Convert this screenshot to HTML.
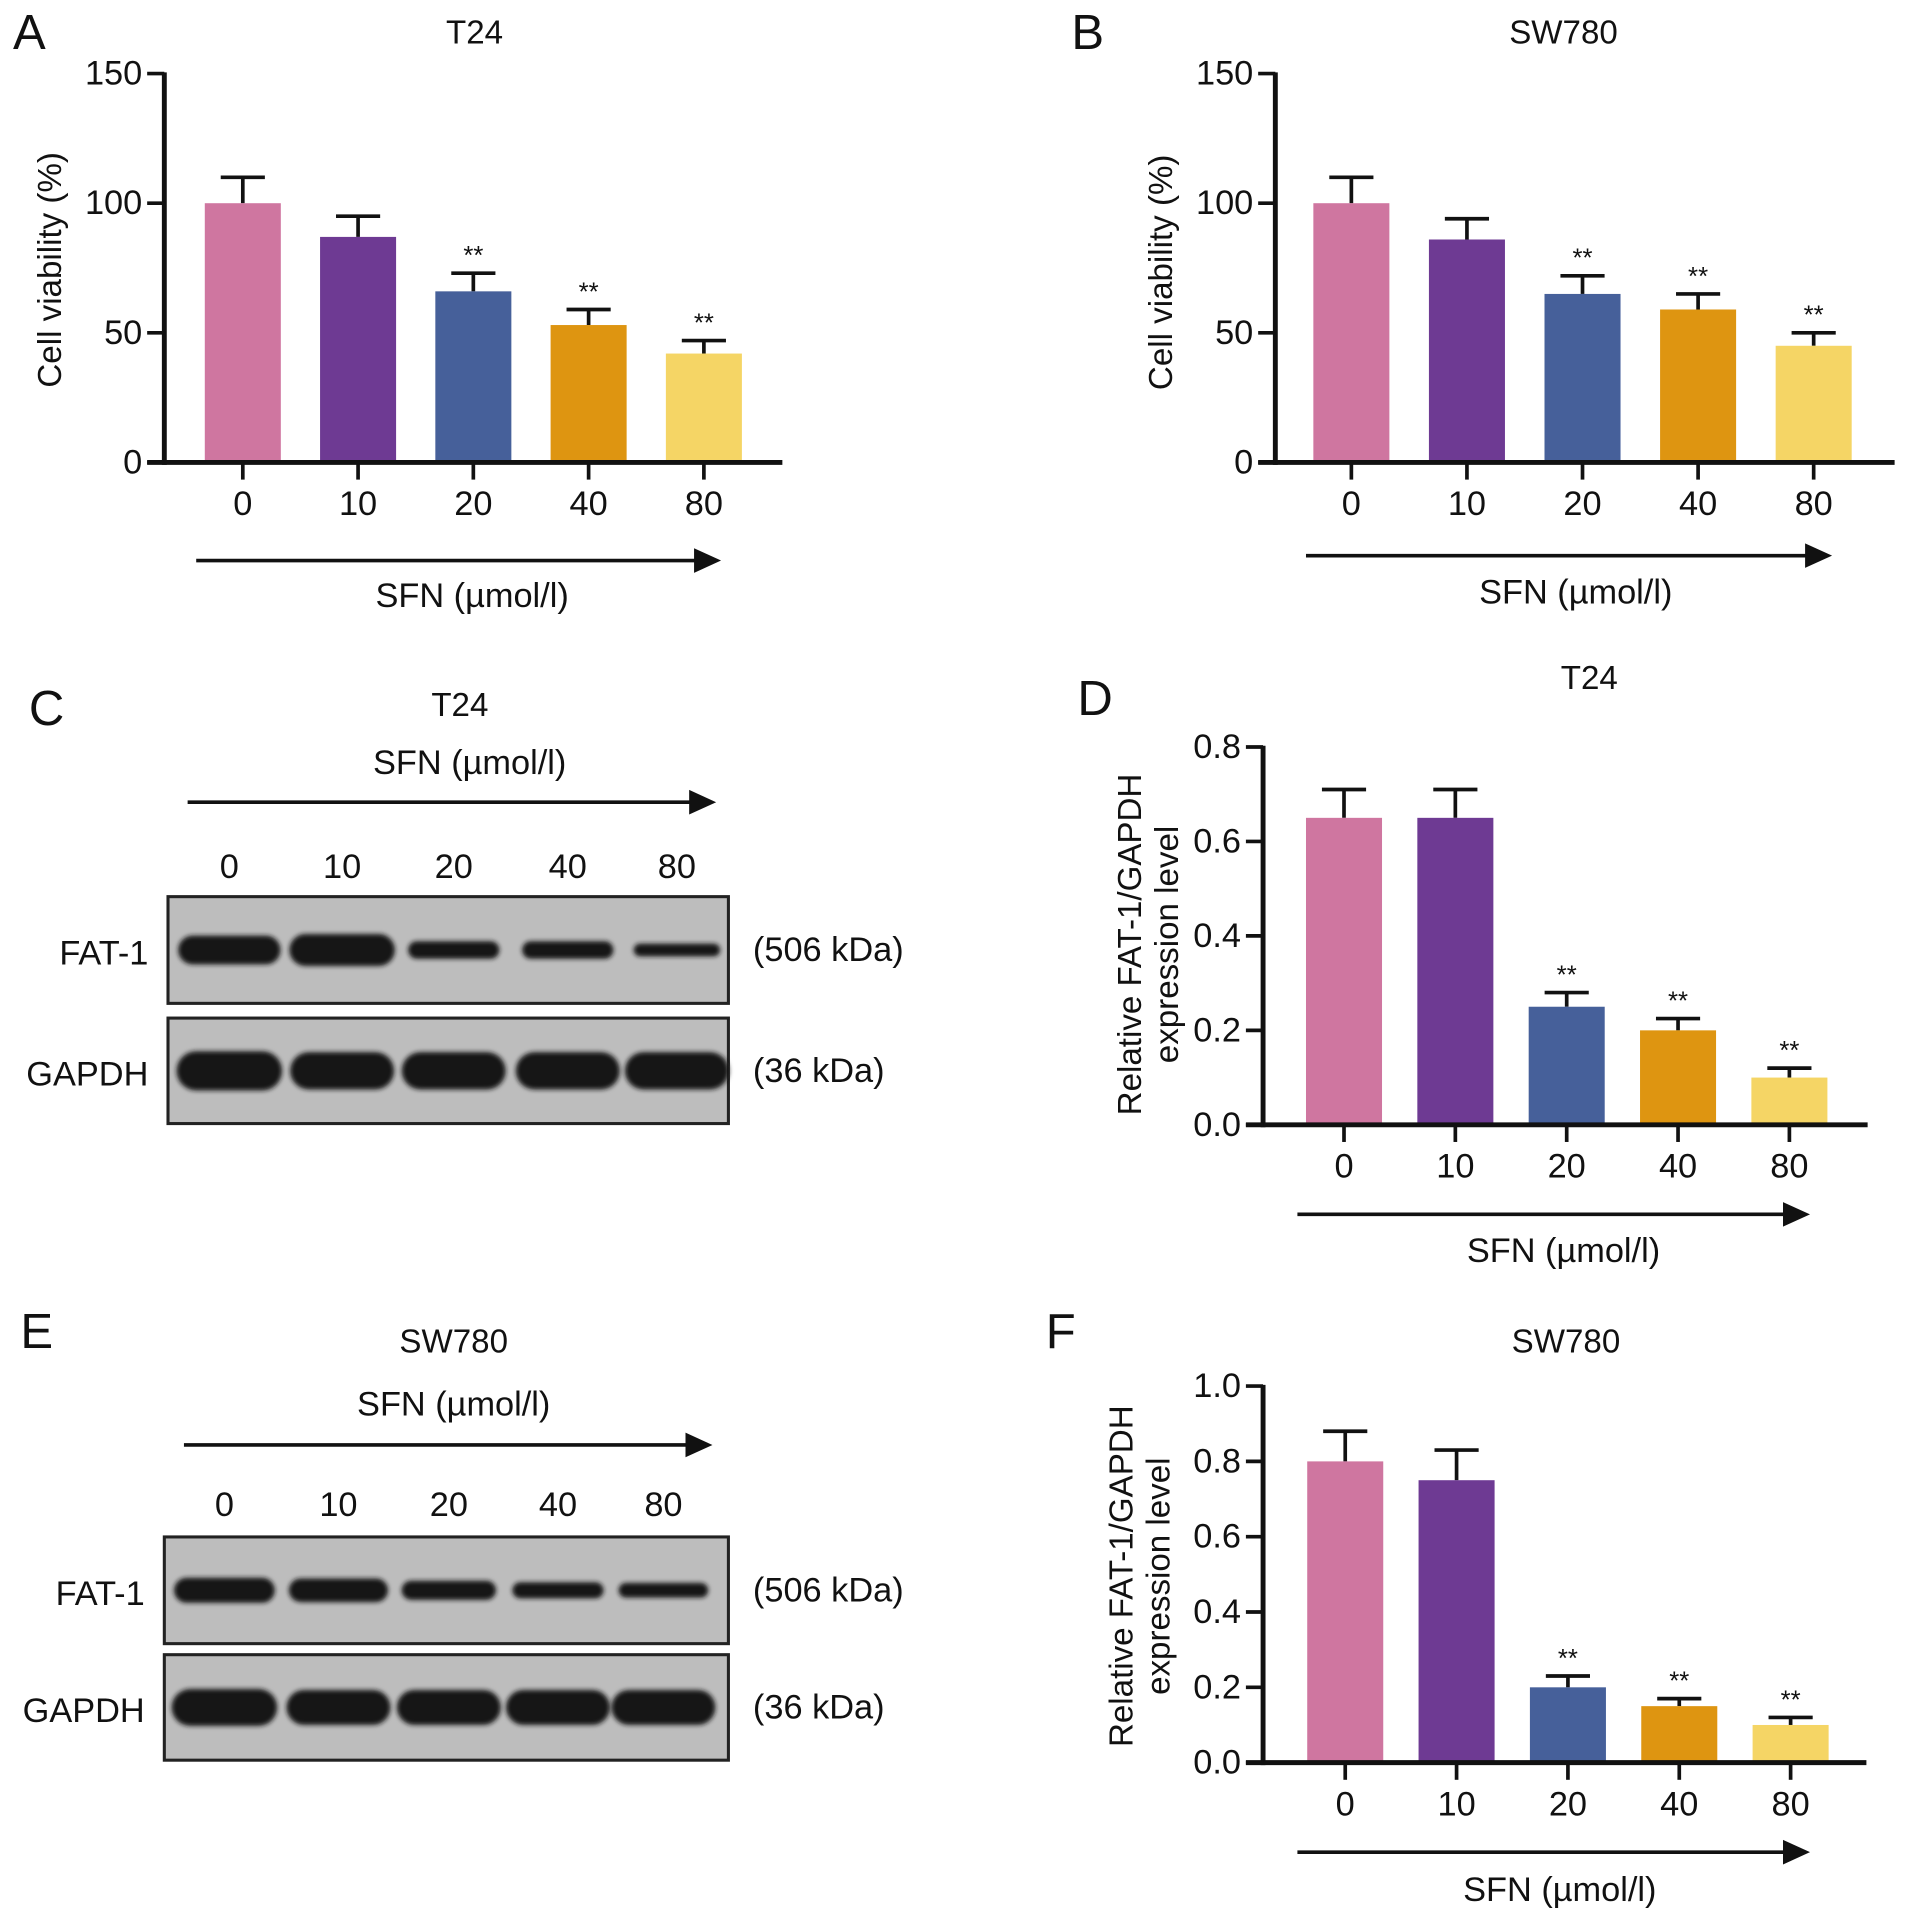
<!DOCTYPE html>
<html><head><meta charset="utf-8"><style>
html,body{margin:0;padding:0;background:#fff;}
svg{display:block;font-family:"Liberation Sans",Arial,sans-serif;}
</style></head><body>
<svg id="fig" width="1913" height="1927" viewBox="0 0 1560 1571" preserveAspectRatio="none" xmlns="http://www.w3.org/2000/svg">
<defs>
<filter id="blur" x="-20%" y="-60%" width="140%" height="220%"><feGaussianBlur stdDeviation="2"/></filter>
</defs>
<g id="root"></g>
</svg>
<script>
const categories = ["0","10","20","40","80"];
const colors = ["#CF76A0","#6E3A93","#46609A","#DE9511","#F5D565"];
const aValues = [100,87,66,53,42];
const aErrors = [10,8,7,6,5];
const aSig = [false,false,true,true,true];
const bValues = [100,86,65,59,45];
const bErrors = [10,8,7,6,5];
const bSig = [false,false,true,true,true];
const dValues = [0.65,0.65,0.25,0.20,0.10];
const dErrors = [0.06,0.06,0.03,0.025,0.02];
const dSig = [false,false,true,true,true];
const fValues = [0.80,0.75,0.20,0.15,0.10];
const fErrors = [0.08,0.08,0.03,0.02,0.02];
const fSig = [false,false,true,true,true];
const ticksViability = [0,50,100,150];
const ticksD = [0,0.2,0.4,0.6,0.8];
const ticksF = [0,0.2,0.4,0.6,0.8,1.0];
const cFat = [0.9,1.0,0.55,0.55,0.4];
const cGapdh = [1.0,0.95,0.95,0.95,0.95];
const eFat = [0.85,0.8,0.65,0.55,0.5];
const eGapdh = [1.0,0.95,0.95,0.95,0.95];

const NS="http://www.w3.org/2000/svg";
const root=document.getElementById('root');
function mk(tag,attrs,parent,text){const e=document.createElementNS(NS,tag);for(const k in attrs)e.setAttribute(k,attrs[k]);if(text!==undefined)e.textContent=text;(parent||root).appendChild(e);return e;}
function txt(x,y,s,size,anchor,parent,name){const t=mk('text',{x:x,y:y,'font-size':size,'text-anchor':anchor||'middle','dominant-baseline':'central',fill:'#111'},parent,s);

return t;}
function arrow(x1,x2,y,parent,name){const g=mk('g',{},parent);


mk('line',{x1:x1,y1:y,x2:x2-16,y2:y,stroke:'#111','stroke-width':3},g);
mk('polygon',{points:`${x2-22},${y-10} ${x2},${y} ${x2-22},${y+10}`,fill:'#111'},g);}

function barChart(o){
  const g=mk('g',{});
  
  
  const y=v=>o.y0-(v-o.min)/(o.max-o.min)*(o.y0-o.yTop);
  const x=i=>o.x0c+i*o.step;
  txt(o.letterX,o.letterY,o.letter,40,'middle',g,'panel-label-'+o.letter);
  txt(o.titleX,o.titleY,o.title,27,'middle',g,'chart-title');
  o.values.forEach((v,i)=>{
    const cx=x(i),top=y(v),te=y(v+o.errors[i]);
    const eb=mk('line',{x1:cx,y1:top,x2:cx,y2:te,stroke:'#111','stroke-width':3},g);
    
    
    const cap=mk('line',{x1:cx-18,y1:te,x2:cx+18,y2:te,stroke:'#111','stroke-width':3},g);
    
    
    const r=mk('rect',{x:cx-o.bw/2,y:top,width:o.bw,height:o.y0-top,fill:colors[i]},g);
    
    
    if(o.sig[i]) txt(cx,te-14,'**',21,'middle',g,'significance-'+categories[i]);
    const tk=mk('line',{x1:cx,y1:o.y0,x2:cx,y2:o.y0+14,stroke:'#111','stroke-width':3},g);
    
    
    txt(cx,o.y0+34,categories[i],28,'middle',g,'x-tick-label-'+categories[i]);
  });
  const ya=mk('line',{x1:o.ax,y1:o.yTop-1,x2:o.ax,y2:o.y0+2,stroke:'#111','stroke-width':4},g);
  
  
  const xa=mk('line',{x1:o.ax-14,y1:o.y0,x2:o.axEnd,y2:o.y0,stroke:'#111','stroke-width':4},g);
  
  
  o.ticks.forEach(t=>{
    const l=mk('line',{x1:o.ax-14,y1:y(t),x2:o.ax,y2:y(t),stroke:'#111','stroke-width':3},g);
    
    
    txt(o.ax-18,y(t),o.fmt(t),28,'end',g,'y-tick-label');
  });
  o.ytitle.forEach((s,k)=>{
    const t=txt(o.ytX[k],o.ytY,s,27,'middle',g,'y-axis-title');
    t.setAttribute('transform',`rotate(-90 ${o.ytX[k]} ${o.ytY})`);
  });
  arrow(o.arX1,o.arX2,o.arY,g,'dose-arrow');
  txt(o.sfnX,o.sfnY,'SFN (µmol/l)',28,'middle',g,'x-axis-title');
}

barChart({name:'chart-a',letter:'A',letterX:24,letterY:27,title:'T24',titleX:387,titleY:27,values:aValues,errors:aErrors,sig:aSig,
 min:0,max:150,y0:377,yTop:60,ax:134,axEnd:638,x0c:198,step:94,bw:62,ticks:ticksViability,fmt:t=>String(t),
 ytitle:['Cell viability (%)'],ytX:[41],ytY:220,arX1:160,arX2:588,arY:457,sfnX:385,sfnY:486});
barChart({name:'chart-b',letter:'B',letterX:887,letterY:27,title:'SW780',titleX:1275,titleY:27,values:bValues,errors:bErrors,sig:bSig,
 min:0,max:150,y0:377,yTop:60,ax:1040,axEnd:1545,x0c:1102,step:94.25,bw:62,ticks:ticksViability,fmt:t=>String(t),
 ytitle:['Cell viability (%)'],ytX:[947],ytY:222,arX1:1065,arX2:1494,arY:453,sfnX:1285,sfnY:483});
barChart({name:'chart-d',letter:'D',letterX:893,letterY:570,title:'T24',titleX:1296,titleY:553,values:dValues,errors:dErrors,sig:dSig,
 min:0,max:0.8,y0:917,yTop:609,ax:1030,axEnd:1523,x0c:1096,step:90.8,bw:62,ticks:ticksD,fmt:t=>t.toFixed(1),
 ytitle:['Relative FAT-1/GAPDH','expression level'],ytX:[922,952],ytY:770,arX1:1058,arX2:1476,arY:990,sfnX:1275,sfnY:1020});
barChart({name:'chart-f',letter:'F',letterX:865,letterY:1086,title:'SW780',titleX:1277,titleY:1094,values:fValues,errors:fErrors,sig:fSig,
 min:0,max:1.0,y0:1437,yTop:1130,ax:1030,axEnd:1522,x0c:1097,step:90.8,bw:62,ticks:ticksF,fmt:t=>t.toFixed(1),
 ytitle:['Relative FAT-1/GAPDH','expression level'],ytX:[915,945],ytY:1285,arX1:1058,arX2:1476,arY:1510,sfnX:1272,sfnY:1541});

function blot(o){
  const g=mk('g',{});
  
  
  txt(o.letterX,o.letterY,o.letter,40,'middle',g,'panel-label-'+o.letter);
  txt(o.titleX,o.titleY,o.title,27,'middle',g,'blot-title');
  txt(o.sfnX,o.sfnY,'SFN (µmol/l)',28,'middle',g,'dose-label');
  arrow(o.arX1,o.arX2,o.arY,g,'dose-arrow');
  categories.forEach((c,i)=>txt(o.lanes[i],o.laneY,c,28,'middle',g,'lane-label-'+c));
  o.rows.forEach(r=>{
    const rg=mk('g',{},g);
    
    
    mk('rect',{x:o.bx1,y:r.y1,width:o.bx2-o.bx1,height:r.y2-r.y1,fill:'#bdbdbd',stroke:'#222','stroke-width':2.5},rg);
    const cy=(r.y1+r.y2)/2;
    r.vals.forEach((v,i)=>{
      const w=r.w*(0.7+0.3*v),h=r.h*v;
      const e=mk('rect',{x:o.lanes[i]-w/2,y:cy-h/2,width:w,height:h,rx:Math.min(h/2,w/4),ry:h/2,fill:'#161616',filter:'url(#blur)'},rg);
      
      
    });
    txt(o.bx1-16,cy+3,r.label,28,'end',rg,'protein-label');
    txt(o.bx2+20,cy,r.kda,28,'start',rg,'kda-label');
  });
}
blot({name:'blot-c',letter:'C',letterX:38,letterY:578,title:'T24',titleX:375,titleY:575,sfnX:383,sfnY:622,arX1:153,arX2:584,arY:654,
 lanes:[187,279,370,463,552],laneY:707,bx1:137,bx2:594,
 rows:[{label:'FAT-1',kda:'(506 kDa)',y1:731,y2:818,vals:cFat,w:86,h:26},{label:'GAPDH',kda:'(36 kDa)',y1:830,y2:916,vals:cGapdh,w:86,h:32}]});
blot({name:'blot-e',letter:'E',letterX:30,letterY:1086,title:'SW780',titleX:370,titleY:1094,sfnX:370,sfnY:1145,arX1:150,arX2:581,arY:1178,
 lanes:[183,276,366,455,541],laneY:1227,bx1:134,bx2:594,
 rows:[{label:'FAT-1',kda:'(506 kDa)',y1:1253,y2:1340,vals:eFat,w:86,h:24},{label:'GAPDH',kda:'(36 kDa)',y1:1349,y2:1435,vals:eGapdh,w:86,h:30}]});
</script>
</body></html>
